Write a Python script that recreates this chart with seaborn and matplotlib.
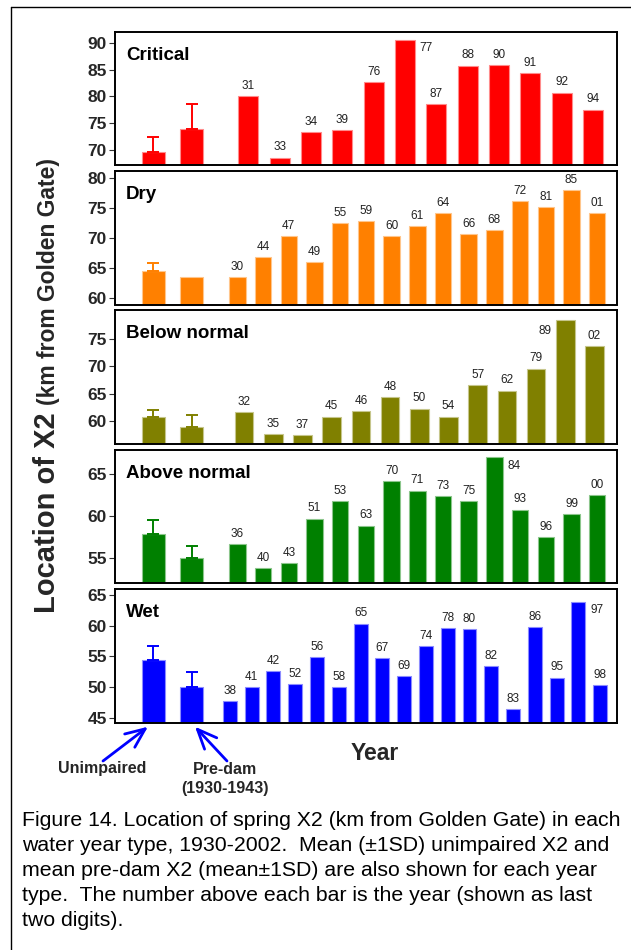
import numpy as np
import pandas as pd
import matplotlib
matplotlib.use("Agg")
import matplotlib.pyplot as plt
from matplotlib.lines import Line2D
import seaborn as sns

# ---------------- data ----------------
panel_names = ["Critical", "Dry", "Below normal", "Above normal", "Wet"]
panel_colors = ["#FF0000", "#FF8000", "#808000", "#008000", "#0000FF"]

critical_years = ["31", "33", "34", "39", "76", "77", "87", "88", "90", "91", "92", "94"]
critical_x2 = [80.0, 68.5, 73.3, 73.6, 82.6, 90.6, 78.6, 85.75, 85.9, 84.35, 80.7, 77.5]
critical_means = [69.6, 73.87]          # unimpaired mean, pre-dam mean
critical_sd = [2.75, 4.65]

dry_years = ["30", "44", "47", "49", "55", "59", "60", "61", "64", "66", "68", "72", "81", "85", "01"]
dry_x2 = [63.5, 66.8, 70.3, 66.0, 72.5, 72.8, 70.3, 72.0, 74.2, 70.7, 71.3, 76.1, 75.2, 78.0, 74.1]
dry_means = [64.54, 63.5]
dry_sd = [1.36, np.nan]

bn_years = ["32", "35", "37", "45", "46", "48", "50", "54", "57", "62", "79", "89", "02"]
bn_x2 = [61.6, 57.67, 57.55, 60.85, 61.83, 64.35, 62.3, 60.85, 66.5, 65.57, 69.55, 78.4, 73.7]
bn_means = [60.73, 58.9]
bn_sd = [1.23, 2.3]

an_years = ["36", "40", "43", "51", "53", "63", "70", "71", "73", "75", "84", "93", "96", "99", "00"]
an_x2 = [56.7, 53.9, 54.5, 59.74, 61.8, 58.9, 64.23, 63.06, 62.45, 61.8, 67.0, 60.8, 57.5, 60.26, 62.53]
an_means = [57.9, 55.04]
an_sd = [1.67, 1.46]

wet_years = ["38", "41", "42", "52", "56", "58", "65", "67", "69", "74", "78", "80", "82", "83",
             "86", "95", "97", "98"]
wet_x2 = [47.63, 49.92, 52.54, 50.42, 54.94, 49.92, 60.36, 54.78, 51.82, 56.73, 59.64, 59.47,
          53.44, 46.45, 59.8, 51.54, 63.94, 50.31]
wet_means = [54.44, 50.03]
wet_sd = [2.29, 2.46]

panel_ylims = [(67.1, 92.1), (59.0, 81.1), (55.9, 80.1), (52.05, 67.9), (44.16, 65.95)]
panel_ticks = [[70, 75, 80, 85, 90], [60, 65, 70, 75, 80], [60, 65, 70, 75], [55, 60, 65],
               [45, 50, 55, 60, 65]]
side_labels = [{"77": "right"}, {}, {"89": "left"}, {"84": "right"}, {"97": "right"}]

caption_lines = [
    "Figure 14. Location of spring X2 (km from Golden Gate) in each",
    "water year type, 1930-2002.  Mean (\u00b11SD) unimpaired X2 and",
    "mean pre-dam X2 (mean\u00b11SD) are also shown for each year",
    "type.  The number above each bar is the year (shown as last",
    "two digits).",
]

panels = [
    (critical_years, critical_x2, critical_means, critical_sd),
    (dry_years, dry_x2, dry_means, dry_sd),
    (bn_years, bn_x2, bn_means, bn_sd),
    (an_years, an_x2, an_means, an_sd),
    (wet_years, wet_x2, wet_means, wet_sd),
]

# ---------------- style ----------------
sns.set_theme(style="white")
plt.rcParams["font.family"] = ["Liberation Sans", "DejaVu Sans"]

W, H = 631, 950
fig = plt.figure(figsize=(W / 100, H / 100), dpi=100)
fig.patch.set_facecolor("white")

ax_left, ax_right = 115, 617
top0, ph, gap = 31.7, 133.4, 6.0
mean_pos = np.array([0.0763, 0.1527])
mean_width_frac = 0.0465


def lighten(c, f=0.55):
    rgb = np.array(matplotlib.colors.to_rgb(c))
    return tuple(rgb + (1 - rgb) * f)


axes = []
for i, (name, color, (years, vals, means, sds)) in enumerate(zip(panel_names, panel_colors, panels)):
    top = top0 + i * (ph + gap)
    ax = fig.add_axes([ax_left / W, 1 - (top + ph) / H, (ax_right - ax_left) / W, ph / H])
    axes.append(ax)
    n = len(years)
    s = 0.855 / (n + 1.7)
    xpos = 0.145 + 1.93 * s + s * np.arange(n)
    edge = lighten(color)

    df_years = pd.DataFrame({"pos": xpos, "x2": vals})
    sns.barplot(data=df_years, x="pos", y="x2", native_scale=True, orient="x", width=0.64,
                color=color, saturation=1, edgecolor=edge, linewidth=0.8, errorbar=None, ax=ax)

    df_means = pd.DataFrame({"pos": mean_pos, "x2": means})
    sns.barplot(data=df_means, x="pos", y="x2", native_scale=True, orient="x",
                width=mean_width_frac / (mean_pos[1] - mean_pos[0]),
                color=color, saturation=1, edgecolor=edge, linewidth=0.8, errorbar=None, ax=ax)

    sd_arr = np.array(sds, dtype=float)
    ok = np.isfinite(sd_arr)
    if ok.any():
        ax.errorbar(mean_pos[ok], np.array(means)[ok],
                    yerr=[np.zeros(ok.sum()), sd_arr[ok]], fmt="none", ecolor=color,
                    elinewidth=1.4, capsize=4, capthick=1.4, zorder=3)

    for xp, v, yr in zip(xpos, vals, years):
        side = side_labels[i].get(yr)
        kw = dict(textcoords="offset points", fontsize=8.5, color="#222222", zorder=5)
        if side is None:
            ax.annotate(yr, (xp, v), xytext=(0, 3), ha="center", va="bottom", **kw)
        elif side == "right":
            ax.annotate(yr, (xp + 0.32 * s, v), xytext=(3.5, -2), ha="left", va="top", **kw)
        else:
            ax.annotate(yr, (xp - 0.32 * s, v), xytext=(-3.5, -4), ha="right", va="top", **kw)

    ax.set_xlim(0, 1)
    ax.set_ylim(*panel_ylims[i])
    ax.set_yticks(panel_ticks[i])
    ax.set_yticklabels([str(t) for t in panel_ticks[i]])
    ax.set_xticks([])
    ax.set_xlabel("")
    ax.set_ylabel("")
    ax.tick_params(axis="y", left=True, direction="out", length=4, width=0.8, color="#333333",
                   pad=2, labelsize=12.5)
    for lab in ax.get_yticklabels():
        lab.set_fontweight("bold")
    for sp in ax.spines.values():
        sp.set_visible(True)
        sp.set_color("black")
        sp.set_linewidth(1.4)
    ax.set_facecolor("white")
    ax.text(11 / (ax_right - ax_left), 1 - 23.5 / ph, name, transform=ax.transAxes,
            fontsize=13.5, fontweight="bold", ha="left", va="center", color="black")

# ---------------- figure-level text ----------------
t1 = fig.text(55 / W, 1 - 613 / H, "Location of X2", rotation=90, rotation_mode="anchor",
              ha="left", va="baseline", fontsize=21, fontweight="bold")
fig.canvas.draw()
bb = t1.get_window_extent()
fig.text(55 / W, (bb.y1 + 7) / H, "(km from Golden Gate)", rotation=90, rotation_mode="anchor",
         ha="left", va="baseline", fontsize=16.5, fontweight="bold")

fig.text(375 / W, 1 - 753 / H, "Year", ha="center", va="center", fontsize=16.5, fontweight="bold")
fig.text(102 / W, 1 - 769 / H, "Unimpaired", ha="center", va="center", fontsize=11.5,
         fontweight="bold")
fig.text(225 / W, 1 - 769 / H, "Pre-dam", ha="center", va="center", fontsize=11.5,
         fontweight="bold")
fig.text(225 / W, 1 - 788 / H, "(1930-1943)", ha="center", va="center", fontsize=11.5,
         fontweight="bold")

# arrows pointing at the two mean bars of the bottom panel
wet_ax = axes[-1]
arrow_kw = dict(arrowstyle="->, head_length=0.7, head_width=0.3", color="#0000FF", lw=2.0,
                mutation_scale=20, shrinkA=0, shrinkB=0)
wet_ax.annotate("", xy=(148 / W, 1 - 726.7 / H), xycoords="figure fraction",
                xytext=(103 / W, 1 - 761 / H), textcoords="figure fraction",
                arrowprops=arrow_kw, annotation_clip=False)
wet_ax.annotate("", xy=(195 / W, 1 - 726.7 / H), xycoords="figure fraction",
                xytext=(227 / W, 1 - 761 / H), textcoords="figure fraction",
                arrowprops=arrow_kw, annotation_clip=False)

# caption
for k, line in enumerate(caption_lines):
    fig.text(22 / W, 1 - (821 + 24.8 * k) / H, line, ha="left", va="center", fontsize=15.3,
             color="black")

# outer frame (top and left edges)
fig.add_artist(Line2D([11 / W, 11 / W], [0, 1 - 7 / H], transform=fig.transFigure,
                      color="black", lw=1.0))
fig.add_artist(Line2D([11 / W, 1], [1 - 7 / H, 1 - 7 / H], transform=fig.transFigure,
                      color="black", lw=1.0))

fig.savefig("out.png", dpi=100, facecolor="white")
